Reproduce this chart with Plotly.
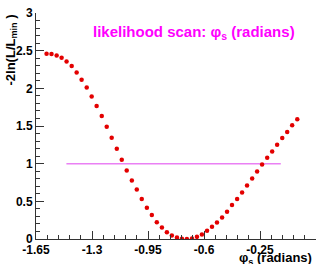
import plotly.graph_objects as go

# scan points (phi_s, radians) and -2 ln(L/Lmin)
phi_s = [-1.584, -1.553, -1.521, -1.490, -1.459, -1.427, -1.396, -1.365, -1.333, -1.302,
         -1.271, -1.239, -1.208, -1.177, -1.145, -1.114, -1.083, -1.051, -1.020, -0.989,
         -0.957, -0.926, -0.895, -0.863, -0.832, -0.801, -0.769, -0.738, -0.707, -0.675,
         -0.644, -0.613, -0.581, -0.550, -0.519, -0.487, -0.456, -0.425, -0.393, -0.362,
         -0.331, -0.299, -0.268, -0.237, -0.205, -0.174, -0.143, -0.111, -0.080, -0.049,
         -0.017]
nll = [2.460, 2.456, 2.437, 2.407, 2.357, 2.296, 2.211, 2.113, 2.011, 1.891,
       1.767, 1.633, 1.491, 1.344, 1.197, 1.051, 0.909, 0.776, 0.656, 0.531,
       0.416, 0.317, 0.224, 0.153, 0.091, 0.047, 0.020, 0.003, 0.000, 0.007,
       0.029, 0.060, 0.109, 0.163, 0.220, 0.287, 0.363, 0.451, 0.531, 0.616,
       0.709, 0.803, 0.896, 0.989, 1.077, 1.163, 1.251, 1.340, 1.420, 1.509,
       1.589]

line_x = [-1.46, -0.12]
line_y = [1, 1]

x_ticks = [-1.65, -1.3, -0.95, -0.6, -0.25, 0.1]
x_ticktext = ["-1.65", "-1.3", "-0.95", "-0.6", "-0.25", "0.1"]

title_text = "likelihood scan: φ<sub>s</sub> (radians)"
x_title = "φ<sub>s</sub> (radians)"
y_title = "-2ln(L/L<sub>min</sub> )"

FONT = "Liberation Sans, Arial, sans-serif"

fig = go.Figure()
fig.add_trace(go.Scatter(x=line_x, y=line_y, mode="lines",
                         line=dict(color="#ea80f4", width=1.5), hoverinfo="skip"))
fig.add_trace(go.Scatter(x=phi_s, y=nll, mode="markers",
                         marker=dict(color="#e30000", size=4.5, line=dict(width=0))))

axis_common = dict(showgrid=False, zeroline=False, showline=True, linecolor="#333333",
                   linewidth=1, ticks="inside", ticklen=8, tickcolor="#333333",
                   tickfont=dict(family=FONT, size=12, color="black", weight="bold"))

fig.update_xaxes(range=[-1.65, 0.1], tickvals=x_ticks, ticktext=x_ticktext,
                 minor=dict(ticks="inside", ticklen=4, dtick=0.07, tick0=-1.65,
                            tickcolor="#333333", showgrid=False),
                 **axis_common)
fig.update_yaxes(range=[0, 3], dtick=0.5, tick0=0,
                 minor=dict(ticks="inside", ticklen=4, dtick=0.1, tick0=0,
                            tickcolor="#333333", showgrid=False),
                 **axis_common)

fig.add_annotation(text=title_text, xref="paper", yref="paper", x=0.566, y=1,
                   xanchor="center", yanchor="middle", yshift=-19, showarrow=False,
                   font=dict(family=FONT, size=15, color="#ff00ff", weight="bold"))
fig.add_annotation(text=x_title, xref="paper", yref="paper", x=1, y=0,
                   xanchor="right", yanchor="top", xshift=-2, yshift=-9, showarrow=False,
                   font=dict(family=FONT, size=13, color="black", weight="bold"))
fig.add_annotation(text=y_title, xref="paper", yref="paper", x=0, y=1,
                   xanchor="center", yanchor="top", xshift=-25, yshift=0, textangle=-90,
                   showarrow=False,
                   font=dict(family=FONT, size=13, color="black", weight="bold"))

fig.update_layout(width=319, height=264, margin=dict(l=36, r=3, t=13, b=25),
                  paper_bgcolor="white", plot_bgcolor="white", showlegend=False)

fig.write_html("out.html")
